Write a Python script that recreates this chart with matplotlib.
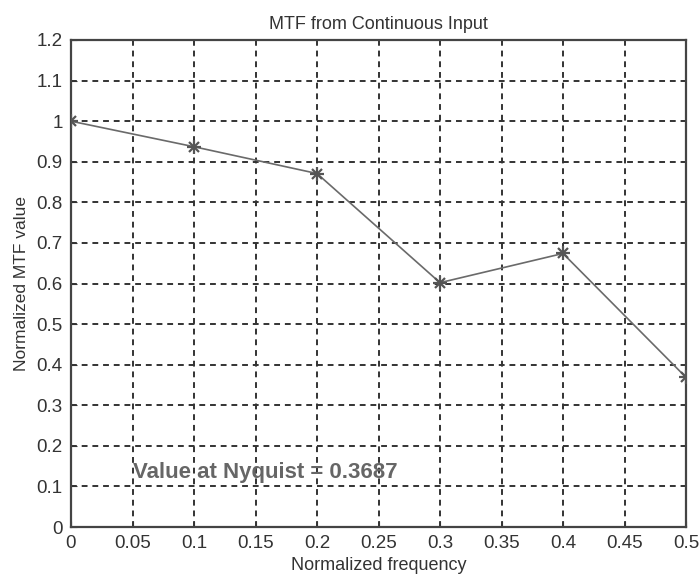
import matplotlib
matplotlib.use("Agg")
import matplotlib.pyplot as plt

freq = [0.0, 0.1, 0.2, 0.3, 0.4, 0.5]
mtf = [1.0, 0.937, 0.871, 0.602, 0.674, 0.3687]
xticks = [0, 0.05, 0.1, 0.15, 0.2, 0.25, 0.3, 0.35, 0.4, 0.45, 0.5]
xticklabels = ["0", "0.05", "0.1", "0.15", "0.2", "0.25", "0.3", "0.35", "0.4", "0.45", "0.5"]
yticks = [0, 0.1, 0.2, 0.3, 0.4, 0.5, 0.6, 0.7, 0.8, 0.9, 1.0, 1.1, 1.2]
yticklabels = ["0", "0.1", "0.2", "0.3", "0.4", "0.5", "0.6", "0.7", "0.8", "0.9", "1", "1.1", "1.2"]

plt.rcParams['font.family'] = ['Liberation Sans', 'DejaVu Sans']

fig = plt.figure(figsize=(7, 5.75), dpi=100)
ax = fig.add_axes([71 / 700, 48 / 575, 615 / 700, 487 / 575])
ax.plot(freq, mtf, color="#6a6a6a", lw=1.2, marker="+", markersize=10, mew=1.6,
        markeredgecolor="#555555", zorder=3)
ax.plot(freq, mtf, linestyle="none", marker="x", markersize=7, mew=1.6,
        markeredgecolor="#555555", zorder=3)
ax.set_xlim(0, 0.5)
ax.set_ylim(0, 1.2)
ax.set_xticks(xticks)
ax.set_xticklabels(xticklabels)
ax.set_yticks(yticks)
ax.set_yticklabels(yticklabels)
ax.tick_params(direction="in", length=4, labelsize=13.5, colors="#333333", pad=6)
ax.grid(True, linestyle=(0, (3, 2.5)), color="#333333", lw=1.4)
for s in ax.spines.values():
    s.set_color("#444444")
    s.set_linewidth(1.6)
ax.set_title("MTF from Continuous Input", fontsize=13, color="#333333", pad=8)
ax.set_xlabel("Normalized frequency", fontsize=13, color="#333333", labelpad=3)
ax.set_ylabel("Normalized MTF value", fontsize=12.5, color="#333333", labelpad=5)
ax.text(0.0505, 0.135, "Value at Nyquist = 0.3687", fontsize=16, fontweight="bold",
        color="#666666", va="center", ha="left", zorder=4)
fig.savefig("out.png", dpi=100)
